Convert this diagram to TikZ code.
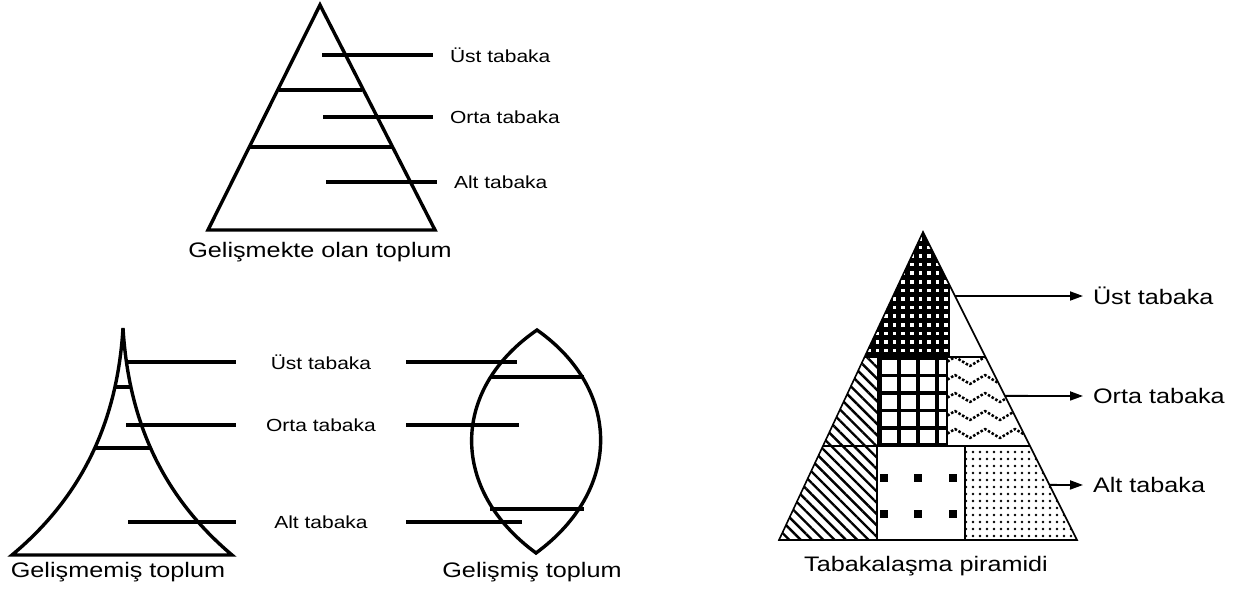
\documentclass[tikz,border=0pt]{standalone}
\usepackage{fontspec}
\setmainfont{Liberation Sans}[FakeStretch=1.2]
\usetikzlibrary{arrows.meta,calc,patterns.meta}

\begin{document}
\begin{tikzpicture}[
    x=1pt, y=-1pt,
    thickline/.style={line width=3.4pt},
    leader/.style={line width=3.2pt},
    thinline/.style={line width=1.6pt},
    lbl/.style={font=\fontsize{17.5}{20}\selectfont, inner sep=0pt, anchor=west, outer xsep=17pt},
    midlbl/.style={font=\fontsize{17.5}{20}\selectfont, inner sep=0pt, minimum width=170pt},
    caption/.style={font=\fontsize{21}{24}\selectfont, inner sep=0pt},
    arrlbl/.style={font=\fontsize{21}{24}\selectfont, inner sep=0pt, anchor=west, outer xsep=10pt},
    flow/.style={-{Triangle[length=13pt,width=9pt]}, line width=1.8pt},
    hatch/.style={pattern={Lines[angle=-45,distance=8pt,line width=2.4pt]}},
    wave/.style={line width=2.5pt, dash pattern=on 2.5pt off 1.8pt, line join=round}
  ]
  \useasboundingbox (0,0) rectangle (1248,599);

  % Developing society
  \draw[thickline] (320,5) -- (435,230) -- (208,230) -- cycle;
  \draw[thickline] (279,90) -- (362,90);
  \draw[thickline] (250,147) -- (392,147);
  \node[lbl] (t-ust) at (433,55) {Üst tabaka};
  \node[lbl] (t-orta) at (433,117) {Orta tabaka};
  \node[lbl] (t-alt) at (437,182) {Alt tabaka};
  \coordinate (t-ust-in) at (322,55);
  \coordinate (t-orta-in) at (323,117);
  \coordinate (t-alt-in) at (326,182);
  \draw[leader] (t-ust-in) -- (t-ust.west);
  \draw[leader] (t-orta-in) -- (t-orta.west);
  \draw[leader] (t-alt-in) -- (t-alt.west);
  \node[caption] (t-cap) at (320,252) {Gelişmekte olan toplum};

  % Underdeveloped society
  \draw[thickline] (12,555) .. controls (90,490) and (118,410) .. (123,328)
    .. controls (128,410) and (155,490) .. (232,555) -- cycle;
  \draw[thickline] (114,387) -- (132,387);
  \draw[thickline] (95,448) -- (151,448);

  % Developed society
  \draw[thickline] (537,330) .. controls (450,390) and (450,490) .. (536,553)
    .. controls (622,490) and (622,390) .. (537,330) -- cycle;
  \draw[thickline] (490,377) -- (584,377);
  \draw[thickline] (490,509) -- (584,509);

  % Shared labels
  \node[midlbl] (m-ust) at (321,362) {Üst tabaka};
  \node[midlbl] (m-orta) at (321,425) {Orta tabaka};
  \node[midlbl] (m-alt) at (321,522) {Alt tabaka};
  \coordinate (a-ust) at (127,362);
  \coordinate (a-orta) at (126,425);
  \coordinate (a-alt) at (128,522);
  \coordinate (b-ust) at (517,362);
  \coordinate (b-orta) at (519,425);
  \coordinate (b-alt) at (522,522);
  \draw[leader] (a-ust) -- (m-ust.west);
  \draw[leader] (a-orta) -- (m-orta.west);
  \draw[leader] (a-alt) -- (m-alt.west);
  \draw[leader] (m-ust.east) -- (b-ust);
  \draw[leader] (m-orta.east) -- (b-orta);
  \draw[leader] (m-alt.east) -- (b-alt);
  \node[caption] (g-cap) at (118,572) {Gelişmemiş toplum};
  \node[caption] (d-cap) at (532,572) {Gelişmiş toplum};

  % Stratification pyramid
  \coordinate (pA) at (923,232);
  \coordinate (pL) at (779,540);
  \coordinate (pR) at (1077,540);
  \coordinate (u0) at ($(pA)!0.172!(pR)$);
  \coordinate (l1) at ($(pA)!0.406!(pL)$);
  \coordinate (r1) at ($(pA)!0.406!(pR)$);
  \coordinate (l2) at ($(pA)!0.695!(pL)$);
  \coordinate (r2) at ($(pA)!0.695!(pR)$);

  % upper tier
  \fill[black] (pA) -- (u0) -- (u0 |- l1) -- (l1) -- cycle;
  \begin{scope}
    \clip (pA) -- (u0) -- (u0 |- l1) -- (l1) -- cycle;
    \foreach \dx in {0,...,10}
      \foreach \dy in {0,...,14}
        \fill[white] (867+\dx*8.6,237+\dy*8.6) rectangle ++(3.6,3.6);
  \end{scope}

  % middle tier
  \fill[hatch] (l1) -- (878,357) -- (878,446) -- (l2) -- cycle;
  \begin{scope}
    \clip (878,357) rectangle (947,446);
    \foreach \gx in {880,899,918,937}
      \draw[line width=3.6pt] (\gx,357) -- (\gx,446);
    \foreach \gy in {358,375.5,393,410.5,428,445}
      \draw[line width=3.6pt] (878,\gy) -- (947,\gy);
  \end{scope}
  \begin{scope}
    \clip (947,357) -- (r1) -- (r2) -- (947,446) -- cycle;
    \foreach \wy in {366,384,402,420,438,456}
      \draw[wave] (940,\wy) \foreach \k in {1,...,4} { -- ++(15,-9) -- ++(15,9) };
  \end{scope}

  % lower tier
  \fill[hatch] (l2) -- (877,446) -- (877,540) -- (pL) -- cycle;
  \foreach \sx in {884,918,953}
    \foreach \sy in {478,514}
      \fill (\sx-3.8,\sy-3.8) rectangle (\sx+3.8,\sy+3.8);
  \fill[pattern={Dots[radius=1.4pt,distance=7pt]}]
    (965,446) -- (r2) -- (pR) -- (965,540) -- cycle;

  % outlines
  \draw[thinline] (pA) -- (pR) -- (pL) -- cycle;
  \draw[thinline] (l1) -- (r1);
  \draw[thinline] (l2) -- (r2);
  \draw[thinline] (u0) -- (u0 |- l1);
  \draw[thinline] (878,357) -- (878,446);
  \draw[thinline] (947,357) -- (947,446);
  \draw[thinline] (877,446) -- (877,540);
  \draw[thinline] (965,446) -- (965,540);

  % arrows
  \node[arrlbl] (p-ust) at (1083,296) {Üst tabaka};
  \node[arrlbl] (p-orta) at (1083,396) {Orta tabaka};
  \node[arrlbl] (p-alt) at (1083,485) {Alt tabaka};
  \coordinate (e-ust) at ($(pA)!0.208!(pR)$);
  \coordinate (e-orta) at ($(pA)!0.532!(pR)$);
  \coordinate (e-alt) at ($(pA)!0.821!(pR)$);
  \draw[flow] (e-ust) -- (p-ust.west);
  \draw[flow] (e-orta) -- (p-orta.west);
  \draw[flow] (e-alt) -- (p-alt.west);
  \node[caption] (p-cap) at (926,566) {Tabakalaşma piramidi};
\end{tikzpicture}
\end{document}
